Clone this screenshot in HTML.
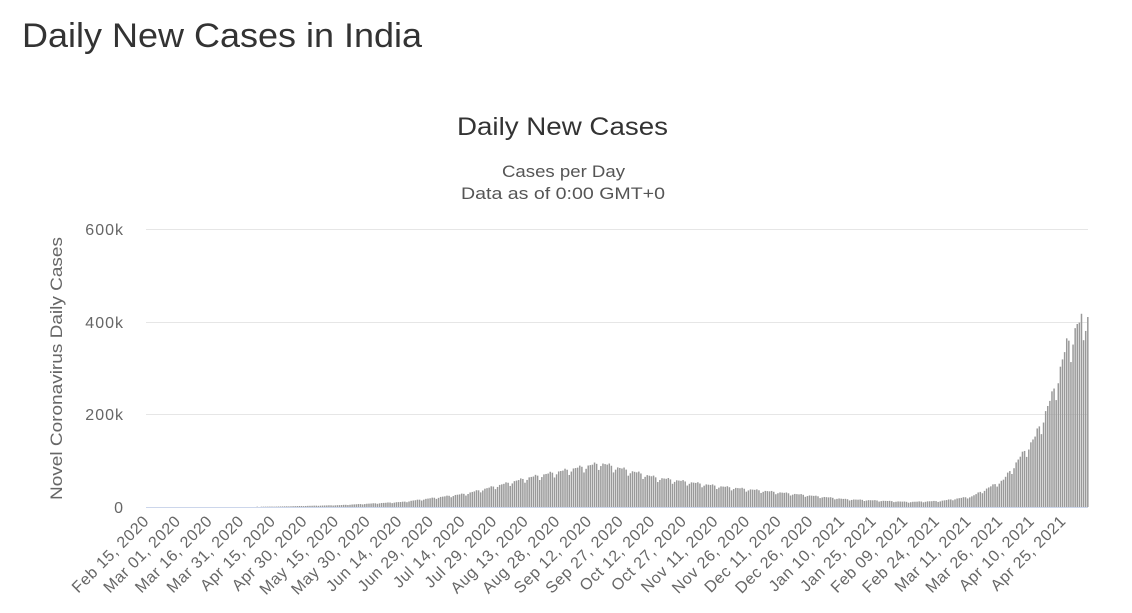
<!DOCTYPE html>
<html><head><meta charset="utf-8"><style>
body{margin:0;background:#fff;font-family:"Liberation Sans",sans-serif;}
svg{display:block}
</style></head><body>
<svg id="s" width="1132" height="613" xmlns="http://www.w3.org/2000/svg" font-family="Liberation Sans, sans-serif">
<text x="22" y="47" font-size="34" fill="#333" textLength="400" lengthAdjust="spacingAndGlyphs">Daily New Cases in India</text>
<text x="457" y="135" font-size="25" fill="#333" textLength="211" lengthAdjust="spacingAndGlyphs">Daily New Cases</text>
<text x="502" y="177" font-size="17" fill="#555" textLength="123" lengthAdjust="spacingAndGlyphs">Cases per Day</text>
<text x="461" y="199" font-size="17" fill="#555" textLength="204" lengthAdjust="spacingAndGlyphs">Data as of 0:00 GMT+0</text>
<g stroke="#e6e6e6" stroke-width="1">
<line x1="146" x2="1088" y1="229.5" y2="229.5"/>
<line x1="146" x2="1088" y1="322.5" y2="322.5"/>
<line x1="146" x2="1088" y1="414.5" y2="414.5"/>
</g>
<g font-size="16" fill="#666" text-anchor="end" letter-spacing="1">
<text x="124" y="235">600k</text>
<text x="124" y="328">400k</text>
<text x="124" y="420">200k</text>
<text x="124" y="513">0</text>
</g>
<text transform="translate(62,500) rotate(-90)" font-size="17" fill="#666" textLength="263" lengthAdjust="spacingAndGlyphs">Novel Coronavirus Daily Cases</text>
<g id="bars" fill="#999"></g>
<line x1="146" x2="1088" y1="507.5" y2="507.5" stroke="#ccd6eb"/>
<g id="lab" font-size="16" fill="#666" text-anchor="end" letter-spacing="0.6">
<text transform="translate(150,522) rotate(-45)">Feb 15, 2020</text>
<text transform="translate(181.6,522) rotate(-45)">Mar 01, 2020</text>
<text transform="translate(213.2,522) rotate(-45)">Mar 16, 2020</text>
<text transform="translate(244.9,522) rotate(-45)">Mar 31, 2020</text>
<text transform="translate(276.5,522) rotate(-45)">Apr 15, 2020</text>
<text transform="translate(308.1,522) rotate(-45)">Apr 30, 2020</text>
<text transform="translate(339.7,522) rotate(-45)">May 15, 2020</text>
<text transform="translate(371.3,522) rotate(-45)">May 30, 2020</text>
<text transform="translate(403,522) rotate(-45)">Jun 14, 2020</text>
<text transform="translate(434.6,522) rotate(-45)">Jun 29, 2020</text>
<text transform="translate(466.2,522) rotate(-45)">Jul 14, 2020</text>
<text transform="translate(497.8,522) rotate(-45)">Jul 29, 2020</text>
<text transform="translate(529.4,522) rotate(-45)">Aug 13, 2020</text>
<text transform="translate(561,522) rotate(-45)">Aug 28, 2020</text>
<text transform="translate(592.7,522) rotate(-45)">Sep 12, 2020</text>
<text transform="translate(624.3,522) rotate(-45)">Sep 27, 2020</text>
<text transform="translate(655.9,522) rotate(-45)">Oct 12, 2020</text>
<text transform="translate(687.5,522) rotate(-45)">Oct 27, 2020</text>
<text transform="translate(719.1,522) rotate(-45)">Nov 11, 2020</text>
<text transform="translate(750.8,522) rotate(-45)">Nov 26, 2020</text>
<text transform="translate(782.4,522) rotate(-45)">Dec 11, 2020</text>
<text transform="translate(814,522) rotate(-45)">Dec 26, 2020</text>
<text transform="translate(845.6,522) rotate(-45)">Jan 10, 2021</text>
<text transform="translate(877.2,522) rotate(-45)">Jan 25, 2021</text>
<text transform="translate(908.9,522) rotate(-45)">Feb 09, 2021</text>
<text transform="translate(940.5,522) rotate(-45)">Feb 24, 2021</text>
<text transform="translate(972.1,522) rotate(-45)">Mar 11, 2021</text>
<text transform="translate(1003.7,522) rotate(-45)">Mar 26, 2021</text>
<text transform="translate(1035.3,522) rotate(-45)">Apr 10, 2021</text>
<text transform="translate(1066.9,522) rotate(-45)">Apr 25, 2021</text>
</g>
</svg>
<script>
var pts=[[0,0],[35,50],[60,1000],[90,4000],[120,11000],[150,29000],[180,64000],[214,95000],[240,64000],[270,45000],[300,31000],[330,17000],[360,11000],[375,13000],[390,23000],[405,59000],[420,152000],[428,240000],[435,350000],[440,395000],[445,410000]];
function f(d){for(var i=1;i<pts.length;i++){if(d<=pts[i][0]){var a=pts[i-1],b=pts[i];return a[1]+(b[1]-a[1])*(d-a[0])/(b[0]-a[0]);}}return 410000;}
var g=document.getElementById('bars'),h='';
for(var d=0;d<446;d++){var v=f(d);var w=d%7;if(w==3)v*=0.85;else if(w==4)v*=0.93;else if(w==1)v*=1.04;if(d==445)v=410000;if(d==444)v=380000;if(d==443)v=360000;var bh=v*278/600000;if(bh<0.3)continue;var x=149+d*2.108;h+='<rect x="'+x.toFixed(2)+'" y="'+(507-bh).toFixed(2)+'" width="1.5" height="'+bh.toFixed(2)+'"/>';}
g.innerHTML=h;
</script>
</body></html>
